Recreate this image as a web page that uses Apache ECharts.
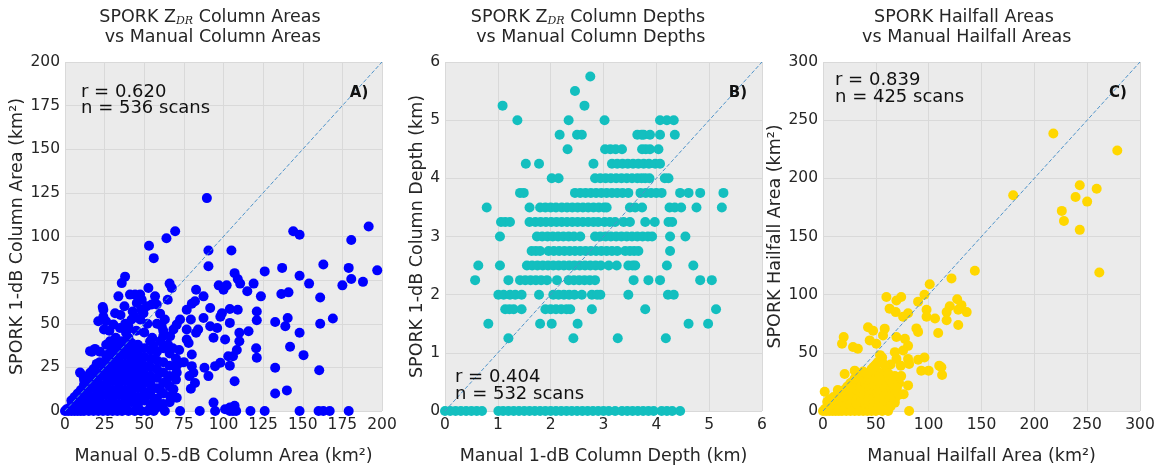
<!DOCTYPE html>
<html>
<head>
<meta charset="utf-8">
<script src="https://cdn.jsdelivr.net/npm/echarts@6/dist/echarts.min.js"></script>
<style>
  html, body { margin: 0; padding: 0; background: #fff; }
  #chart { width: 1159px; height: 468px; }
</style>
</head>
<body>
<div id="chart"></div>
<script>
// panel A: manual 0.5-dB column area vs SPORK 1-dB column area (km2)
const areaPoints = [
  [89.5,122],[64,99],[69.5,103],[144,103],[148,101],[180.6,98],[191.6,105.7],
  [53,94.7],[56,87.6],[90.5,83],[90.5,92],[105,92],[126,80],[137,82],[163,84],[179,82],[197,80.6],
  [180.6,75.6],[188,74],[175,72],[148,77.5],[154,73],[119,73],[115,68.6],[107,79],[109,75.6],
  [110.5,73],[97,72],[100,69.5],[102,72],[136.5,67],[141,68],[161,65],[169,53],[161,50],
  [132.6,51],[139,48.6],[140.5,53.3],[148,44.8],[150.5,32],[142,36.8],[132.6,24.8],[160.4,23.4],
  [132.6,10],[140,11.8],[121,30.5],[120.6,36],[121,52],[121,57],[123.6,65.7],[115.8,45.7],
  [110,44.8],[110,40],[108.4,35],[106,31.4],[103,31.4],[104,26],[107,17],[96,47.6],[93.7,42],
  [98,54],[99,56],[104,58.5],[109,58],[104,50.5],[101,41],[98,27.6],[94.7,25.7],[90.5,20],
  [91.6,59],[87.4,53.3],[91.6,48.6],[88,24.8],[87.4,65.7],[82.7,69.5],[82,62.9],[80,61.5],
  [76.8,58],[79.4,52.4],[76.8,46.7],[84,46.7],[82.7,44.8],[76.8,41],[78,39],[80,32.4],[80,25.7],
  [81,21.9],[78.5,20],[79.4,12.8],[82,16],[72.6,52.4],[70.5,49.5],[68.4,46.7],[67.4,70.5],
  [66,73],[64.8,63.8],[63,52.4],[66.3,42.9],[72.6,27.6],[70.5,21.9],[68.4,12.4],[66.3,8.6],
  [70.5,7.6],[60,55.8],[61,48.6],[62,42.9],[56.8,65.7],[57.9,61],[54.7,61],[52.6,70.5],
  [47.4,66.7],[44.2,66.7],[41,66.7],[37.9,77],[35.8,73.3],[33.7,65.7],[37.5,60],[31.6,56],
  [30.5,49.5],[28.4,40],[24.2,58],[24.2,54],[25.9,51.4],[23.8,59.6],[24.6,46.7],[21,51.4],
  [15.8,34.3],[18.9,35.6],[9.5,22],[11.6,20],[53.7,40],[47.4,52.4],[49.5,56],[51.6,60],
  [48.4,63.8],[45.3,61.9],[42,52.4],[40,48.6],[38.5,44.8],[34.7,47.6],[42.7,57],[53.7,17],
  [54.7,12.4],[55.8,4.8],[93.7,4.8],
  [63,0],[72.6,0],[85,0],[94.7,0],[104,0],[106,0],[108,0],[117,0],[126,0],[148,0],[160,0],
  [163,0],[167,0],[179,0],[107,3],[101,1],[104,2],
  [0,0],[2,0],[4,0],[6,0],[8,0],[10,0],[12,0],[15,0],[18,0],[21,0],[24,0],[27,0],[30,0],
  [33,0],[36,0],[40,0],[44,0],[48,0],[52,0],[56,0],
  [1,1],[3,2],[5,4],[7,5],[9,7],[11,9],[13,11],[15,13],[17,15],[19,17],[21,19],[23,21],
  [25,23],[27,25],
  [10,3],[10,7],[14,2],[14,6],[14,10],[18,3],[18,8],[18,13],[18,16],
  [22,2],[22,6],[22,11],[22,15],[22,20],[26,4],[26,9],[26,14],[26,19],[26,24],[26,28],
  [30,2],[30,7],[30,12],[30,17],[30,22],[30,27],[30,32],
  [34,4],[34,9],[34,14],[34,19],[34,24],[34,29],[34,34],
  [38,2],[38,7],[38,12],[38,17],[38,22],[38,27],[38,32],[38,36],
  [42,5],[42,10],[42,15],[42,20],[42,25],[42,30],[42,35],[42,39],
  [46,3],[46,8],[46,13],[46,18],[46,23],[46,28],[46,33],[46,38],
  [50,6],[50,11],[50,16],[50,21],[50,26],[50,31],[50,36],
  [54,3],[54,9],[54,15],[54,20],[54,25],[54,30],[54,35],
  [58,7],[58,13],[58,19],[58,24],[58,29],[58,34],
  [62,4],[62,10],[62,16],[62,22],[62,28],[62,36],
  [66,14],[66,20],[66,26],[66,33],[70,18],[70,25],[70,30],
  [20,27],[16,22],[12,18],[22,34],[17,34],[28,33],[33,38],[40,42],[45,46],[50,45],[55,42],
  [60,40],[35,55],[48,58],[58,50],[65,38],[72,35],[75,28],[68,36],[62,46],[52,50],[44,54],
  [38,50],[46,28],[64,17],[60,12],[66,5],[58,2],[40,47],[56,37],
  [14,14],[16,18],[20,22],[24,26],[10,12],[8,10],[6,8],[4,6],[12,15],[18,24],[22,28],
  [26,32],[30,36],[32,42],[36,40],[28,46],[26,38]
];

// panel B: SPORK 1-dB depth levels and the manual depths found at each level (km)
const depthLevels = [5.75, 5.5, 5.25, 5.0, 4.75, 4.5, 4.25, 4.0, 3.75, 3.5, 3.25, 3.0,
                     2.75, 2.5, 2.25, 2.0, 1.75, 1.5, 1.25, 0];
const depthManual = [
  [2.75],
  [2.46],
  [1.09, 2.64],
  [1.37, 2.34, 3.02, 4.07, 4.2, 4.33],
  [2.17, 2.5, 2.59, 3.64, 3.72, 3.76, 3.88, 4.07, 4.35],
  [2.32, 3.03, 3.13, 3.23, 3.35, 3.73, 3.8, 3.88, 4.04],
  [1.53, 1.78, 2.81, 3.16, 3.26, 3.36, 3.46, 3.56, 3.66, 3.76, 3.86, 3.98, 4.07],
  [2.02, 2.15, 2.84, 2.94, 3.04, 3.14, 3.24, 3.34, 3.44, 3.54, 3.64, 3.72, 3.79, 3.87, 4.16, 4.23],
  [1.42, 1.49, 2.46, 2.56, 2.66, 2.76, 2.86, 2.96, 3.06, 3.16, 3.26, 3.36, 3.47, 3.7, 3.8, 3.9,
   4.0, 4.1, 4.45, 4.61, 4.83, 5.27],
  [0.79, 1.6, 1.8, 1.9, 2.0, 2.1, 2.21, 2.31, 2.41, 2.51, 2.61, 2.71, 2.81, 2.91, 3.01, 3.06,
   3.5, 3.6, 3.73, 4.25, 4.35, 4.47, 4.76, 5.24],
  [1.06, 1.14, 1.23, 1.6, 1.71, 1.81, 1.91, 2.01, 2.11, 2.21, 2.31, 2.41, 2.51, 2.61, 2.71,
   2.81, 2.9, 3.02, 3.12, 3.22, 3.38, 3.5, 3.79, 3.97, 4.23, 4.3],
  [1.04, 1.74, 1.84, 1.94, 2.04, 2.14, 2.24, 2.34, 2.44, 2.56, 2.84, 2.94, 3.04, 3.14, 3.24,
   3.34, 3.44, 3.54, 3.64, 3.74, 3.84, 3.92, 4.26, 4.55],
  [1.64, 1.72, 1.8, 1.96, 2.06, 2.16, 2.26, 2.36, 2.46, 2.56, 2.66, 2.76, 2.86, 2.96, 3.06,
   3.16, 3.26, 3.41, 3.5, 3.58, 3.66, 4.26],
  [0.63, 1.04, 1.55, 1.65, 1.75, 1.85, 1.95, 2.05, 2.15, 2.25, 2.35, 2.45, 2.55, 2.65, 2.75,
   2.85, 2.95, 3.1, 3.25, 3.47, 3.55, 3.6, 4.2, 4.7],
  [0.57, 1.2, 1.42, 1.52, 1.62, 1.72, 1.82, 1.93, 2.12, 2.34, 2.44, 2.54, 2.64, 2.74, 2.84,
   3.57, 3.85, 4.07, 4.83, 5.05],
  [1.01, 1.11, 1.23, 1.33, 1.45, 1.78, 2.05, 2.15, 2.25, 2.35, 2.45, 2.59, 2.78, 2.88, 2.94,
   3.47, 4.22, 4.33],
  [1.14, 1.22, 1.3, 1.45, 1.9, 2.0, 2.1, 2.2, 2.3, 2.37, 2.78, 3.79, 5.13],
  [0.82, 1.8, 2.02, 2.51, 4.61, 4.98],
  [1.2, 2.43, 3.27, 4.18],
  [0, 0.1, 0.2, 0.3, 0.4, 0.5, 0.6, 0.7, 1.01, 1.1, 1.2, 1.3, 1.4, 1.5, 1.6, 1.7, 1.8, 1.9,
   2.0, 2.1, 2.2, 2.3, 2.4, 2.5, 2.6, 2.7, 2.8, 2.9, 3.0, 3.1, 3.22, 3.35, 3.45, 3.55, 3.65,
   3.75, 3.85, 3.95, 4.1, 4.2, 4.3, 4.45]
];

// panel C: manual hailfall area vs SPORK hailfall area (km2)
const hailPoints = [
  [218,238.6],[278.5,224],[180,185.4],[243,194],[239,184],[250,180],[259,191],[226,172],
  [228,163.4],[243,155.7],[261.5,119],[143.7,120.5],[121.6,114],[101,109],[96,100],[90,94],
  [127,96],[131,91],[136,85],[128,87],[120,90],[117,85],[117,78],[128,74],[98,87],[98,81],
  [106,79.5],[109,67],[88.4,71],[90,68],[74,98],[69.5,95],[60,98],[63,88],[68.8,85],[75.8,81],
  [80.5,84],[42.6,72],[47.4,69],[58.4,70.8],[56.8,65],[19.6,63.6],[18,57.8],[28.4,55],[33,53.5],
  [44.2,60.7],[50.5,57.8],[69.5,63.6],[77.5,62],[80.5,56],[75.8,52],[68,50.6],[69.5,44.8],
  [80.5,44.8],[81.5,40.5],[90,44],[96,46],[93,34.7],[100,34.7],[110,39],[112,37.6],[112.7,31],
  [73.6,39],[74,30],[80.5,22],[76.3,14.5],[68,7.2],[81.5,0],[56,0],[61.6,0],[1.6,16.5],
  [20.5,31.8],[30,34.7],
  [0,0],[3,0],[6,0],[9,0],[12,0],[15,0],[18,0],[22,0],[26,0],[30,0],[34,0],[38,0],[42,0],
  [46,0],[50,0],
  [2,2],[5,4],[8,7],[11,10],[14,13],[17,15],[20,18],[23,21],[26,24],[29,26],
  [8,2],[12,3],[12,6],[16,2],[16,6],[16,10],[20,3],[20,7],[20,11],[20,15],
  [24,2],[24,6],[24,10],[24,14],[24,18],[28,4],[28,8],[28,12],[28,16],[28,20],[28,24],
  [32,2],[32,6],[32,10],[32,14],[32,18],[32,22],[32,26],
  [36,4],[36,8],[36,12],[36,16],[36,20],[36,25],[36,30],
  [40,2],[40,6],[40,10],[40,15],[40,20],[40,24],[40,28],
  [44,5],[44,9],[44,13],[44,18],[44,22],[44,27],
  [48,3],[48,8],[48,12],[48,17],[48,22],[48,30],[48,38],
  [52,6],[52,10],[52,15],[52,20],[52,26],[52,34],[52,42],
  [56,4],[56,12],[56,18],[56,24],[56,30],[56,46],
  [60,8],[60,16],[60,22],[60,28],[60,36],
  [64,4],[64,12],[64,20],[64,26],[64,40],
  [68,10],[68,18],[68,30],[72,14],[72,24],
  [4,8],[6,4],[10,6],[14,8],[18,12],[22,16],[26,20],[30,28],[34,30],[38,34],[42,32],
  [46,36],[50,40],[54,48],[58,40],[62,32],[66,24],[70,20],[10,12],[6,10],[14,18],[4,2]
];

const depthPoints = [];
depthLevels.forEach((lvl, i) => {
  depthManual[i].forEach(x => depthPoints.push([x, lvl]));
});

const font = 'DejaVu Sans';
const textColor = '#262626';

// grid rectangles of the three panels
const grids = [
  { left: 65, top: 62, width: 317, height: 349 },
  { left: 445, top: 62, width: 317, height: 349 },
  { left: 823, top: 62, width: 317, height: 349 }
];
const axisMax = [200, 6, 300];
const axisStep = [25, 1, 50];
const xNames = ['Manual 0.5-dB Column Area (km²)', 'Manual 1-dB Column Depth (km)', 'Manual Hailfall Area (km²)'];
const yNames = ['SPORK 1-dB Column Area (km²)', 'SPORK 1-dB Column Depth (km)', 'SPORK Hailfall Area (km²)'];
const yNameGap = [29, 9, 32];
const colors = ['#0000ff', '#13bfbf', '#ffd700'];
const pointSets = [areaPoints, depthPoints, hailPoints];

function axis(i, isX) {
  return {
    type: 'value',
    gridIndex: i,
    min: 0,
    max: axisMax[i],
    interval: axisStep[i],
    name: isX ? xNames[i] : yNames[i],
    nameLocation: 'middle',
    nameGap: isX ? 36 : yNameGap[i],
    nameTextStyle: { fontFamily: font, fontSize: 17.5, color: textColor },
    axisLine: { show: false },
    axisTick: { show: false },
    axisLabel: { fontFamily: font, fontSize: 15.5, color: textColor, margin: isX ? 6 : 5 },
    splitLine: { show: true, lineStyle: { color: '#d9d9d9', width: 1 } }
  };
}

const series = [];
pointSets.forEach((pts, i) => {
  series.push({
    type: 'scatter',
    xAxisIndex: i,
    yAxisIndex: i,
    data: pts,
    symbolSize: 10,
    itemStyle: { color: colors[i], opacity: 1 },
    silent: true,
    z: 2
  });
  // 1:1 reference line
  series.push({
    type: 'line',
    xAxisIndex: i,
    yAxisIndex: i,
    data: [[0, 0], [axisMax[i], axisMax[i]]],
    symbol: 'none',
    lineStyle: { color: '#4f93c9', width: 1, type: [4, 2] },
    silent: true,
    z: 3
  });
});

const titleRich = {
  sub: { fontFamily: 'DejaVu Serif', fontStyle: 'italic', fontSize: 11, verticalAlign: 'bottom', lineHeight: 14, fill: textColor }
};
const titles = [
  { x: 210, text: 'SPORK Z{sub|DR} Column Areas\n vs Manual Column Areas' },
  { x: 588, text: 'SPORK Z{sub|DR} Column Depths\n vs Manual Column Depths' },
  { x: 964, text: 'SPORK Hailfall Areas\n vs Manual Hailfall Areas' }
];
const stats = [
  { x: 81, y: [92, 108], text: ['r = 0.620', 'n = 536 scans'] },
  { x: 455, y: [377, 394], text: ['r = 0.404', 'n = 532 scans'] },
  { x: 835, y: [80, 97], text: ['r = 0.839', 'n = 425 scans'] }
];
const tags = [{ x: 359, t: 'A)' }, { x: 738, t: 'B)' }, { x: 1118, t: 'C)' }];

const graphic = [];
titles.forEach(t => graphic.push({
  type: 'text',
  style: {
    x: t.x, y: 7, text: t.text, align: 'center', verticalAlign: 'top',
    fontFamily: font, fontSize: 17.5, lineHeight: 20, fill: textColor, rich: titleRich
  }
}));
stats.forEach(s => s.text.forEach((tx, k) => graphic.push({
  type: 'text', z: 10,
  style: { x: s.x, y: s.y[k], text: tx, align: 'left', verticalAlign: 'middle',
           fontFamily: font, fontSize: 18, fill: '#111' }
})));
tags.forEach(g => graphic.push({
  type: 'text', z: 10,
  style: { x: g.x, y: 93, text: g.t, align: 'center', verticalAlign: 'middle',
           fontFamily: font, fontSize: 15, fontWeight: 'bold', fill: '#111' }
}));

const chart = echarts.init(document.getElementById('chart'), null, { renderer: 'canvas' });
chart.setOption({
  animation: false,
  backgroundColor: '#ffffff',
  grid: grids.map(g => Object.assign({
    show: true, backgroundColor: '#ebebeb', borderWidth: 0,
    containLabel: false, outerBoundsMode: 'none'
  }, g)),
  xAxis: [0, 1, 2].map(i => axis(i, true)),
  yAxis: [0, 1, 2].map(i => axis(i, false)),
  series: series,
  graphic: graphic
});
</script>
</body>
</html>
